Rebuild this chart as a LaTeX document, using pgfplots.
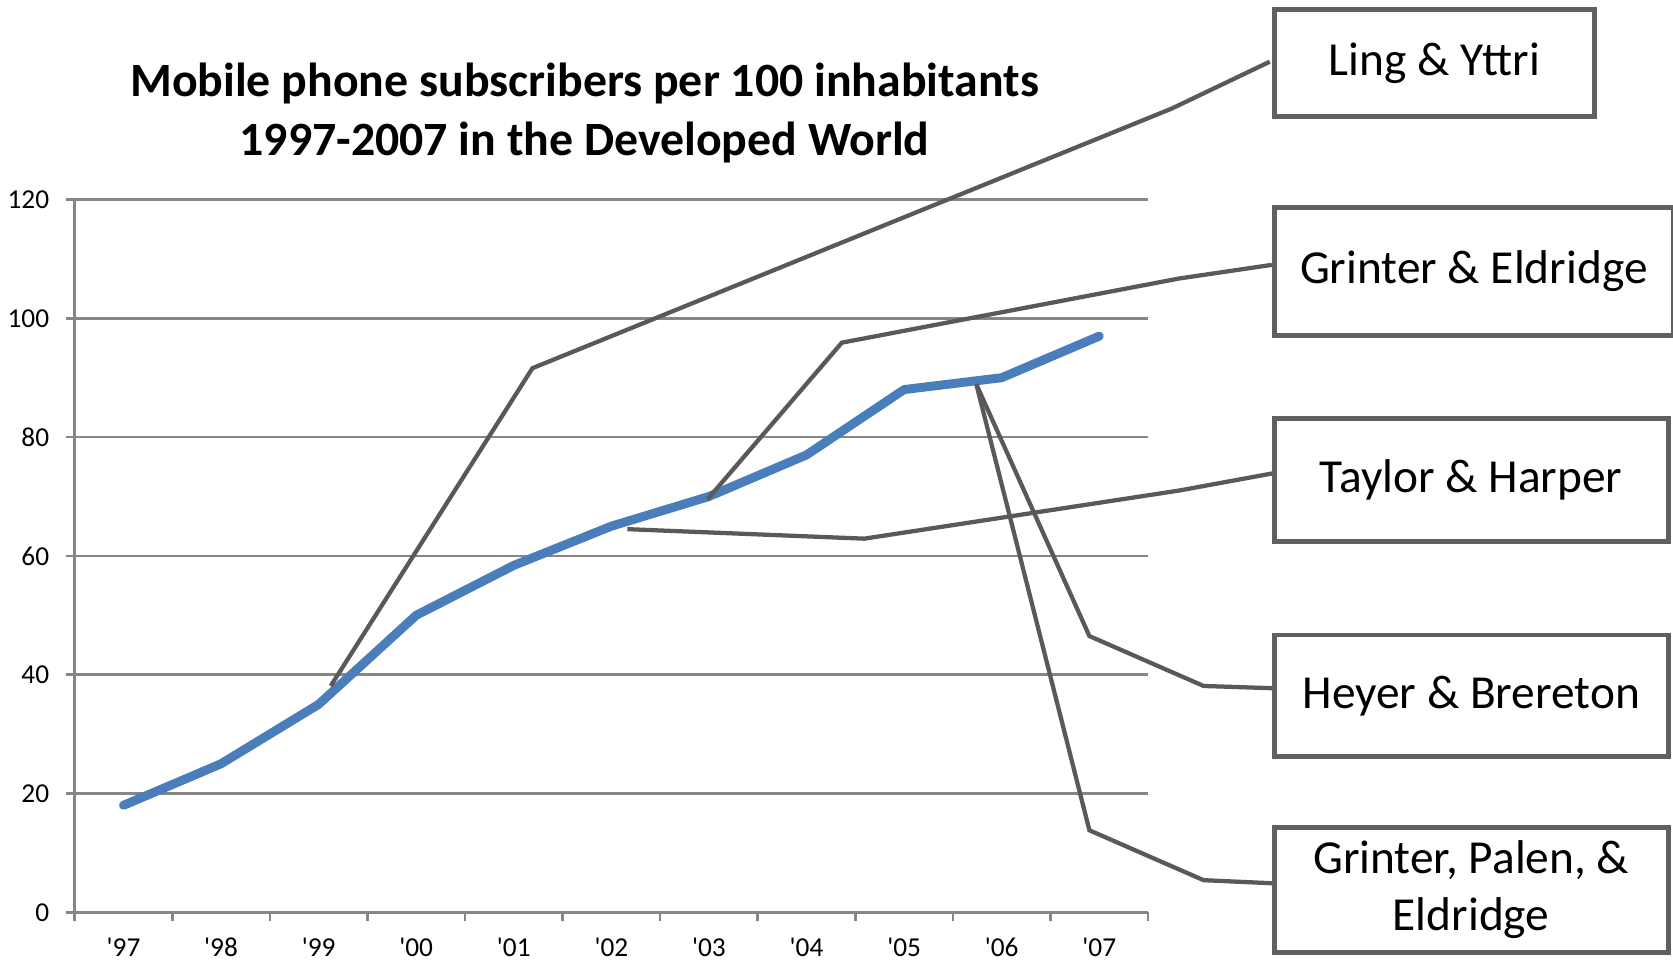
\documentclass[border=0pt]{standalone}
\usepackage{pgfplots}
\pgfplotsset{compat=1.18}
\usepackage{fontspec}
\setmainfont{Carlito}

\definecolor{seriesblue}{RGB}{74,126,187}
\definecolor{leader}{RGB}{89,89,89}
\definecolor{gridgray}{RGB}{134,134,134}
\definecolor{boxgray}{RGB}{96,96,96}

% subscribers per 100 inhabitants, 1997--2007 (x = 0 ... 10)
\pgfplotstableread{
x y
0 18
1 25
2 35
3 50
4 58.4
5 65
6 70
7 77
8 88
9 90
10 97
}\subscribers

\tikzset{callout/.style={draw=boxgray, line width=1.15pt, fill=white,
  anchor=north west, inner sep=0pt, align=center,
  font=\fontsize{11.1}{13.5}\selectfont}}

\begin{document}
\begin{tikzpicture}
\path[use as bounding box] (-17.5pt,-11.25pt) rectangle (374.5pt,213.75pt);
\begin{axis}[
  at={(0,0)}, anchor=south west,
  scale only axis, width=251.5pt, height=167pt,
  xmin=-0.5, xmax=10.5, ymin=0, ymax=120,
  clip=false,
  axis x line*=bottom, axis y line*=left,
  axis line style={-, draw=gridgray, line width=0.6pt},
  xtick={-0.5,0.5,...,10.5},
  xticklabels={\textquotesingle97,\textquotesingle98,\textquotesingle99,\textquotesingle00,\textquotesingle01,\textquotesingle02,\textquotesingle03,\textquotesingle04,\textquotesingle05,\textquotesingle06,\textquotesingle07},
  x tick label as interval,
  ytick={0,20,...,120},
  tick align=outside,
  major tick length=2.1pt,
  tick style={draw=gridgray, line width=0.6pt},
  ymajorgrids,
  grid style={draw=gridgray, line width=0.6pt},
  /pgf/number format/assume math mode=true,
  tick label style={font=\fontsize{6.4}{7.5}\selectfont, text=black},
  xticklabel style={yshift=-0.4pt},
  yticklabel style={xshift=-0.35pt},
]
\addplot[seriesblue, line width=2.1pt, line join=round, line cap=round] table[x=x, y=y] {\subscribers};

% leader lines from the callouts to the curve
\addplot[leader, line width=1pt] coordinates {(2.124,38.1) (4.191,91.6) (10.741,135.3) (11.747,143.2)};
\addplot[leader, line width=1pt] coordinates {(5.984,69.5) (7.362,95.9) (10.818,106.7) (11.769,109.0)};
\addplot[leader, line width=1pt] coordinates {(5.164,64.5) (7.592,62.9) (10.818,71.0) (11.813,74.0)};
\addplot[leader, line width=1pt] coordinates {(8.740,88.9) (9.899,46.5) (11.069,38.1) (11.813,37.7)};
\addplot[leader, line width=1pt] coordinates {(8.740,88.9) (9.899,13.8) (11.069,5.4) (11.813,4.85)};

\node[callout, minimum width=75pt, minimum height=25pt] at (axis cs:11.769,152.4) {Ling \& Yttri};
\node[callout, minimum width=93.5pt, minimum height=30pt] at (axis cs:11.769,119.1) {Grinter \& Eldridge};
\node[callout, minimum width=92.25pt, minimum height=28.75pt] at (axis cs:11.769,83.5) {Taylor \& Harper};
\node[callout, minimum width=92.25pt, minimum height=28.5pt] at (axis cs:11.769,47.1) {Heyer \& Brereton};
\node[callout, minimum width=92.25pt, minimum height=29.25pt] at (axis cs:11.769,14.7) {Grinter, Palen, \&\\Eldridge};

\node[align=center, font=\bfseries\fontsize{11.2}{14}\selectfont] at (rel axis cs:0.475,1.1215)
  {Mobile phone subscribers per 100 inhabitants\\1997-2007 in the Developed World};
\end{axis}
\end{tikzpicture}
\end{document}
